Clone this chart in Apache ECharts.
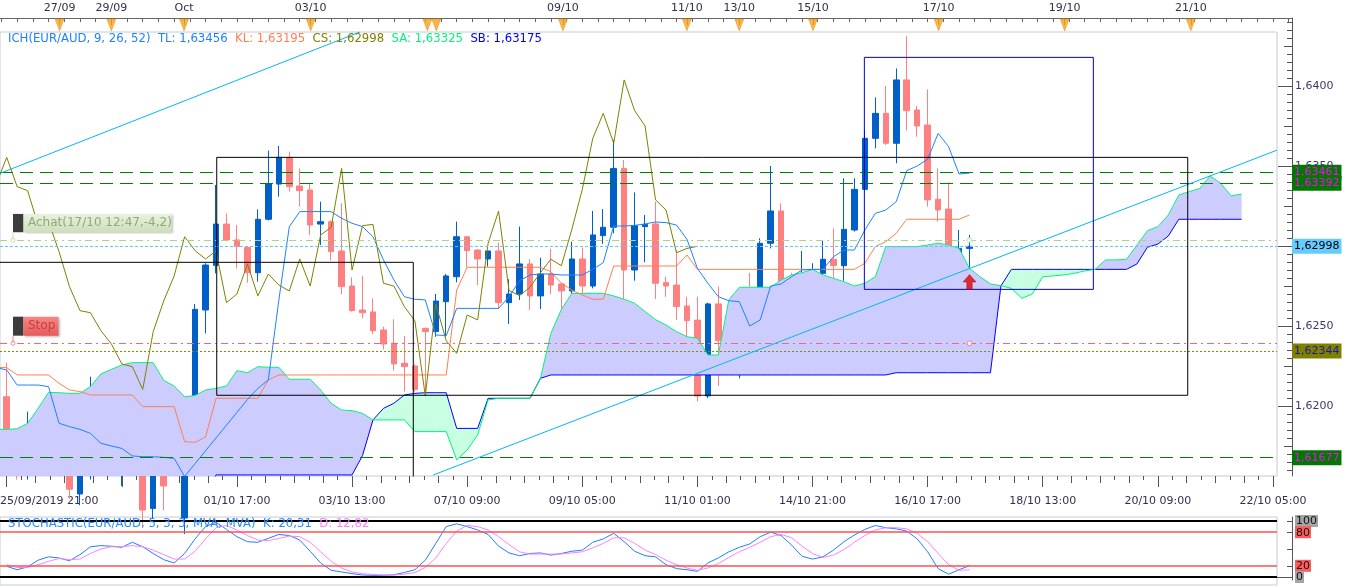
<!DOCTYPE html>
<html><head><meta charset="utf-8">
<script src="https://cdn.jsdelivr.net/npm/echarts@6.0.0/dist/echarts.min.js"></script>
<style>html,body{margin:0;padding:0;background:#fff;}#c{width:1349px;height:588px;}</style>
</head><body><div id="c"></div>
<script>
// ---------- data (bar index 0 = first candle) ----------
const openP = [1.62058,1.61829,1.61590,1.61850,1.61787,1.61650,1.61600,1.61450,1.61767,1.61881,
1.61796,1.61800,1.61846,1.61917,1.61360,1.61580,1.61480,1.61300,1.61763,1.62600,
1.62879,1.63137,1.63038,1.62992,1.62833,1.63167,1.63387,1.63554,1.63375,1.63350,
1.63137,1.63152,1.62969,1.62750,1.62600,1.62588,1.62475,1.62392,1.62267,1.62250,
1.62485,1.62465,1.62652,1.62808,1.63058,1.62975,1.62919,1.62969,1.62646,1.62700,
1.62888,1.62688,1.62825,1.62763,1.62719,1.62919,1.62750,1.63065,1.63117,1.63485,
1.62850,1.63121,1.63138,1.62771,1.62756,1.62625,1.62537,1.62063,1.62638,1.62413,
1.62423,1.62569,1.62538,1.63017,1.63219,1.62725,1.62690,1.62742,1.62829,1.62917,
1.62877,1.63100,1.63354,1.63673,1.63829,1.63642,1.64038,1.63850,1.63756,1.63292,
1.63231,1.62958,1.62985];
const closeP = [1.61829,1.61590,1.61850,1.61783,1.61646,1.61594,1.61480,1.61767,1.61881,1.61642,
1.61808,1.61850,1.61917,1.61350,1.61570,1.61500,1.61300,1.61763,1.62604,1.62881,
1.63137,1.63038,1.62996,1.62833,1.63167,1.63387,1.63554,1.63371,1.63346,1.63131,
1.63152,1.62965,1.62746,1.62596,1.62583,1.62471,1.62388,1.62263,1.62246,1.62104,
1.62465,1.62656,1.62813,1.63058,1.62971,1.62919,1.62969,1.62646,1.62700,1.62888,
1.62688,1.62825,1.62756,1.62719,1.62919,1.62750,1.63069,1.63117,1.63485,1.62850,
1.63127,1.63135,1.62767,1.62750,1.62621,1.62533,1.62062,1.62638,1.62408,1.62329,
1.62569,1.62538,1.63017,1.63219,1.62721,1.62690,1.62742,1.62833,1.62917,1.62877,
1.63104,1.63354,1.63673,1.63829,1.63642,1.64038,1.63846,1.63750,1.63288,1.63225,
1.62958,1.62985,1.62998];
const lowP = [1.61788,1.61540,1.61540,1.61579,1.61610,1.61560,1.61420,1.61380,1.61540,1.61630,
1.61694,1.61500,1.61808,1.61250,1.61300,1.61350,1.61160,1.61200,1.61760,1.62454,
1.62829,1.63030,1.62860,1.62771,1.62777,1.63160,1.63308,1.63340,1.63246,1.63069,
1.63006,1.62908,1.62700,1.62590,1.62548,1.62450,1.62354,1.62221,1.62090,1.62090,
1.62069,1.62433,1.62433,1.62773,1.62867,1.62756,1.62871,1.62604,1.62513,1.62663,
1.62600,1.62606,1.62700,1.62563,1.62606,1.62658,1.62735,1.63013,1.63079,1.62621,
1.62783,1.62898,1.62669,1.62683,1.62538,1.62423,1.62027,1.62050,1.62125,1.62277,
1.62173,1.62413,1.62485,1.62985,1.62720,1.62658,1.62604,1.62450,1.62617,1.62694,
1.62783,1.63090,1.63350,1.63610,1.63631,1.63517,1.63721,1.63683,1.63246,1.63152,
1.62923,1.62590,1.62860];
const highP = [1.62271,1.61840,1.61965,1.61912,1.61892,1.61750,1.61610,1.61944,1.62183,1.61933,
1.61933,1.61860,1.62131,1.61917,1.61710,1.61585,1.61520,1.61775,1.62637,1.62892,
1.63381,1.63204,1.63131,1.63000,1.63229,1.63596,1.63625,1.63590,1.63485,1.63392,
1.63277,1.63160,1.63267,1.62804,1.62813,1.62673,1.62496,1.62542,1.62438,1.62260,
1.62490,1.62700,1.62825,1.63152,1.63060,1.62980,1.62970,1.63021,1.62792,1.63121,
1.62917,1.62927,1.62981,1.62770,1.63027,1.62990,1.63219,1.63231,1.63663,1.63538,
1.63335,1.63194,1.63277,1.62808,1.62975,1.62683,1.62683,1.62646,1.62746,1.62579,
1.62590,1.62833,1.63048,1.63500,1.63267,1.62833,1.62969,1.62892,1.63031,1.63110,
1.63423,1.63423,1.63725,1.63929,1.64000,1.64110,1.64313,1.63875,1.63979,1.63485,
1.63398,1.63100,1.63069];

// Ichimoku lines (first value sits at bar -1)
const LINE_START = -1;
const tenkan = [1.62240,
1.62225,1.62131,1.62131,1.62131,1.62121,1.61892,1.61871,1.61854,1.61829,1.61767,
1.61750,1.61735,1.61688,1.61683,1.61683,1.61679,1.61673,1.61560,1.61640,1.61720,
1.61800,1.61880,1.61960,1.62040,1.62110,1.62163,1.62660,1.63120,1.63215,1.63215,
1.63215,1.63215,1.63173,1.63142,1.63121,1.63058,1.62913,1.62788,1.62683,1.62667,
1.62663,1.62444,1.62440,1.62610,1.62610,1.62610,1.62610,1.62610,1.62683,1.62783,
1.62819,1.62825,1.62825,1.62819,1.62819,1.62819,1.62854,1.62896,1.63125,1.63125,
1.63129,1.63138,1.63150,1.63146,1.63131,1.63042,1.62860,1.62767,1.62683,1.62658,
1.62652,1.62500,1.62538,1.62750,1.62763,1.62808,1.62850,1.62854,1.62854,1.62933,
1.62975,1.62975,1.63100,1.63204,1.63225,1.63277,1.63471,1.63500,1.63542,1.63704,
1.63621,1.63450,1.63456];
const kijun = [1.62240,
1.62240,1.62194,1.62194,1.62194,1.62194,1.62142,1.62100,1.62090,1.62069,1.62069,
1.62069,1.62069,1.62069,1.61996,1.61996,1.61996,1.61996,1.61777,1.61773,1.61806,
1.62048,1.62048,1.62048,1.62048,1.62048,1.62163,1.62194,1.62194,1.62194,1.62194,
1.62194,1.62194,1.62194,1.62194,1.62194,1.62194,1.62194,1.62194,1.62194,1.62194,
1.62194,1.62194,1.62194,1.62725,1.62867,1.62867,1.62867,1.62867,1.62867,1.62867,
1.62867,1.62867,1.62840,1.62767,1.62725,1.62694,1.62667,1.62667,1.62875,1.62875,
1.62875,1.62875,1.62875,1.62875,1.62875,1.62944,1.62854,1.62854,1.62854,1.62854,
1.62854,1.62854,1.62854,1.62854,1.62854,1.62854,1.62854,1.62854,1.62854,1.62854,
1.62854,1.62854,1.62892,1.62996,1.63027,1.63079,1.63167,1.63167,1.63167,1.63167,
1.63167,1.63167,1.63194];
const chikou = [1.63387,
1.63554,1.63371,1.63346,1.63131,1.63152,1.62965,1.62746,1.62596,1.62583,1.62471,
1.62388,1.62263,1.62246,1.62104,1.62465,1.62656,1.62813,1.63058,1.62971,1.62919,
1.62969,1.62646,1.62700,1.62888,1.62688,1.62825,1.62756,1.62719,1.62919,1.62750,
1.63069,1.63117,1.63485,1.62850,1.63127,1.63135,1.62767,1.62750,1.62621,1.62533,
1.62062,1.62638,1.62408,1.62329,1.62569,1.62538,1.63017,1.63219,1.62721,1.62690,
1.62742,1.62833,1.62917,1.62877,1.63104,1.63354,1.63673,1.63829,1.63642,1.64038,
1.63846,1.63750,1.63288,1.63225,1.62958,1.62985,1.62998];
const spanA = [1.61854,
1.61854,1.61858,1.61892,1.61985,1.62085,1.62083,1.62079,1.62079,1.62121,1.62200,
1.62229,1.62256,1.62271,1.62271,1.62271,1.62160,1.62125,1.62058,1.62065,1.62100,
1.62110,1.62125,1.62221,1.62208,1.62246,1.62242,1.62242,1.62167,1.62167,1.62167,
1.62100,1.62017,1.61975,1.61971,1.61954,1.61913,1.61913,1.61913,1.61913,1.61840,
1.61840,1.61840,1.61840,1.61663,1.61725,1.61819,1.62038,1.62048,1.62048,1.62048,
1.62048,1.62173,1.62454,1.62604,1.62704,1.62704,1.62704,1.62704,1.62688,1.62667,
1.62642,1.62590,1.62540,1.62506,1.62465,1.62433,1.62423,1.62319,1.62319,1.62663,
1.62742,1.62742,1.62742,1.62742,1.62788,1.62819,1.62833,1.62854,1.62819,1.62798,
1.62777,1.62750,1.62767,1.62808,1.62996,1.62996,1.62996,1.62996,1.63006,1.63017,
1.63006,1.62985,1.62860,1.62808,1.62763,1.62752,1.62735,1.62673,1.62700,1.62808,
1.62813,1.62819,1.62829,1.62844,1.62854,1.62913,1.62913,1.62917,1.63006,1.63096,
1.63121,1.63194,1.63319,1.63340,1.63360,1.63438,1.63392,1.63313,1.63325];
const spanB = [1.61450,
1.61450,1.61450,1.61450,1.61450,1.61450,1.61450,1.61450,1.61450,1.61450,1.61450,
1.61450,1.61450,1.61450,1.61450,1.61450,1.61450,1.61450,1.61450,1.61450,1.61450,
1.61569,1.61569,1.61569,1.61569,1.61569,1.61569,1.61569,1.61569,1.61569,1.61569,
1.61569,1.61569,1.61569,1.61569,1.61690,1.61913,1.61985,1.62017,1.62069,1.62079,
1.62083,1.62083,1.62083,1.61860,1.61860,1.61860,1.62048,1.62048,1.62048,1.62048,
1.62048,1.62173,1.62194,1.62194,1.62194,1.62194,1.62194,1.62194,1.62194,1.62194,
1.62194,1.62194,1.62194,1.62194,1.62194,1.62194,1.62194,1.62194,1.62194,1.62194,
1.62194,1.62194,1.62194,1.62194,1.62194,1.62194,1.62194,1.62194,1.62194,1.62194,
1.62194,1.62194,1.62194,1.62194,1.62194,1.62208,1.62208,1.62208,1.62208,1.62208,
1.62208,1.62208,1.62208,1.62208,1.62208,1.62750,1.62854,1.62854,1.62854,1.62854,
1.62854,1.62854,1.62854,1.62854,1.62854,1.62854,1.62854,1.62854,1.62888,1.62992,
1.63012,1.63063,1.63167,1.63167,1.63167,1.63167,1.63167,1.63167,1.63167];

// Stochastic (bar 0..92)
const stochK = [19,13,18,30,36,34,29,40,54,56,55,53,62,54,42,31,25,42,68,90,
98,85,72,63,62,69,76,74,66,46,25,12,9,6,3.5,3,3,4,8,13,
30,60,90,95,90,84,76,55,43,38,42,43,39,42,46,48,62,68,78,63,
46,38,36,22,15,13,10,25,34,45,53,59,72,80,74,57,37,32,36,48,
63,75,85,92,88,86,82,68,45,15,5,13,20.31];
const stochD = [22,17,17,22,28,33,31,32,42,50,54,54,56,54,48,40,32,32,46,68,
88,92,84,74,66,65,69,73,72,62,45,28,16,9,6,4.5,3.5,3.5,5,8,
17,34,60,82,92,90,84,72,58,45,41,41,41,41,43,45,52,60,70,70,
60,48,40,30,22,16,12,16,24,35,45,53,62,72,76,70,55,42,35,39,
49,62,74,84,88,88,86,78,63,42,22,12,12.82];

// axis labels
const bottomLabels = ['25/09/2019 21:00','01/10 17:00','03/10 13:00','07/10 09:00','09/10 05:00','11/10 01:00','14/10 21:00','16/10 17:00','18/10 13:00','20/10 09:00','22/10 05:00'];
const bottomLabelBars = [-0.64,22,33,44,55,66,77,88,99,110,121];
const topLabels = ['27/09','29/09','Oct','03/10','09/10','11/10','13/10','15/10','17/10','19/10','21/10'];
const topLabelBars = [5.05,10,16.95,29.05,53.15,65,70,77.05,89.05,101.1,113.15];
const topExtraMarkerBars = [40.2,41.05];
const priceLabels = [1.6200,1.6250,1.6300,1.6350,1.6400];
const stochLabelsA = [100,20];
const stochLabelsB = [80,0];

// drawings (bar index / price)
const levelValues = [1.63461,1.63392,1.61677,1.62998,1.62344];
const achatLevel = 1.63036;
const stopLevel = 1.62392;
const trend1 = [[-0.64,1.63454],[33.76,1.64338]];
const trend2 = [[40.76,1.615688],[121.38,1.63599]];
const rect1 = [[-2,1.6130],[38.85,1.62898]];
const rect2 = [[20.07,1.62067],[112.85,1.63554]];
const rect3 = [[81.95,1.62729],[103.83,1.64179]];
const entryBar = 92;
const arrowPrice = 1.62775;

// ---------- chart ----------
const FONT = 'DejaVu Sans';
const XMIN = -0.64, XMAX_MAIN = 121.38, XMAX_OUT = 122.82;
const YMIN = 1.615625, YMAX_MAIN = 1.643375, YMAX_OUT = 1.64425;
const SMIN = -14.29, SMAX = 107.14;

function fmt(v, d) { return v.toFixed(d).replace('.', ','); }
function range(a, b, s) { const r = []; for (let v = a; v <= b + 1e-9; v += s) r.push(+v.toFixed(6)); return r; }
function rows(arr, start) { return arr.map((v, k) => [start + k, v]); }
function rectPath(r) { const [[x0,y0],[x1,y1]] = r; return [[x0,y0],[x1,y0],[x1,y1],[x0,y1],[x0,y0]]; }
function labelFor(bars, labels) { return v => { for (let k = 0; k < bars.length; k++) if (Math.abs(bars[k] - v) < 1e-6) return labels[k]; return ''; }; }

const chart = echarts.init(document.getElementById('c'));
const candleRows = openP.map((o, i) => [i, o, closeP[i], lowP[i], highP[i]]);

const lineBase = (name, data, color, z) => ({
  name, type: 'line', xAxisIndex: 0, yAxisIndex: 0, data, showSymbol: false, symbol: 'none',
  lineStyle: { color, width: 1 }, z, silent: true, clip: true, animation: false
});

const CLOUD_BULL = '#ccccff', CLOUD_BEAR = '#c8ffe2';
const NOZERO = { onZero: false };

const labelBox = (bg, fg) => ({ show: true, position: 'end', distance: 15, color: fg, backgroundColor: bg,
  padding: [2, 2, 1, 2], fontSize: 11, fontFamily: FONT, lineHeight: 12 });
const levelStyles = [
  { lineStyle: { color: '#007f00', width: 1, type: [13, 7] }, label: labelBox('#007800', '#ff00ff') },
  { lineStyle: { color: '#007f00', width: 1, type: [13, 7] }, label: labelBox('#007800', '#ff00ff') },
  { lineStyle: { color: '#007f00', width: 1, type: [13, 7] }, label: labelBox('#007800', '#ff00ff') },
  { lineStyle: { color: '#66c6f6', width: 1, type: [3, 2] }, label: labelBox('#66ccff', '#000000') },
  { lineStyle: { color: '#8a8a00', width: 1, type: [2, 2] }, label: labelBox('#808000', '#1a1aa0') }
];
const levelData = levelValues.map((v, k) => Object.assign({ yAxis: v }, levelStyles[k], {
  label: Object.assign({}, levelStyles[k].label, { formatter: fmt(v, 5) }) }));
levelData.push({ yAxis: achatLevel, lineStyle: { color: '#a8d48c', width: 1, type: [7, 4, 2, 4] }, label: { show: false } });
levelData.push({ yAxis: stopLevel, lineStyle: { color: '#f06a6a', width: 1, type: [7, 4, 2, 4] }, label: { show: false } });

const stochRich = {
  g: { backgroundColor: '#a4a4a4', color: '#111', padding: [1, 1, 0, 1], fontSize: 11, lineHeight: 11, fontFamily: FONT },
  r: { backgroundColor: '#ff5a5a', color: '#111', padding: [1, 1, 0, 1], fontSize: 11, lineHeight: 11, fontFamily: FONT }
};
const stochFmt = v => (v === 80 || v === 20) ? '{r|' + v + '}' : '{g|' + v + '}';

const LF = 11.7;
const option = {
  animation: false,
  textStyle: { fontFamily: FONT },
  title: [
    { left: 8, top: 33, padding: 0,
      text: '{a|ICH(EUR/AUD, 9, 26, 52)  TL: 1,63456}  {b|KL: 1,63195}  {c|CS: 1,62998}  {d|SA: 1,63325}  {e|SB: 1,63175}',
      textStyle: { fontSize: LF, fontFamily: FONT, fontWeight: 'normal', color: '#1e82ff',
        rich: { a: { color: '#1e82ff', fontSize: LF, fontFamily: FONT }, b: { color: '#ff7f50', fontSize: LF, fontFamily: FONT },
          c: { color: '#808000', fontSize: LF, fontFamily: FONT }, d: { color: '#00f47a', fontSize: LF, fontFamily: FONT },
          e: { color: '#0000ff', fontSize: LF, fontFamily: FONT } } } },
    { left: 8, top: 518, padding: 0,
      text: '{a|STOCHASTIC(EUR/AUD, 5, 3, 3, MVA, MVA)  K: 20,31}  {b|D: 12,82}',
      textStyle: { fontSize: LF, fontFamily: FONT, fontWeight: 'normal', color: '#2a8cff',
        rich: { a: { color: '#2a8cff', fontSize: LF, fontFamily: FONT }, b: { color: '#ff80ff', fontSize: LF, fontFamily: FONT } } } }
  ],
  grid: [
    { left: 0, top: 32, width: 1277, height: 444, show: true, borderColor: '#c4ccd6', borderWidth: 1, backgroundColor: 'transparent', outerBoundsMode: 'none' },
    { left: 0, top: 18, width: 1292, height: 458, show: false, outerBoundsMode: 'none' },
    { left: 0, top: 517, width: 1277, height: 68, show: true, borderColor: '#c4ccd6', borderWidth: 1, backgroundColor: 'transparent', outerBoundsMode: 'none' },
    { left: 0, top: 517, width: 1292, height: 63, show: false, outerBoundsMode: 'none' },
    { left: 0, top: 18, width: 1292, height: 14, show: false, outerBoundsMode: 'none' }
  ],
  xAxis: [
    { type: 'value', gridIndex: 0, min: XMIN, max: XMAX_MAIN, show: false, axisLine: NOZERO },
    { type: 'value', gridIndex: 1, position: 'bottom', min: XMIN, max: XMAX_OUT, axisLine: { show: false, onZero: false },
      axisTick: { show: true, length: 4, customValues: range(0, 122, 1.375), lineStyle: { color: '#555' } }, axisLabel: { show: false }, splitLine: { show: false } },
    { type: 'value', gridIndex: 1, position: 'bottom', min: XMIN, max: XMAX_OUT, axisLine: { show: false, onZero: false },
      axisTick: { show: true, length: 7, customValues: range(0, 122, 2.75), lineStyle: { color: '#555' } }, axisLabel: { show: false }, splitLine: { show: false } },
    { type: 'value', gridIndex: 1, position: 'bottom', min: XMIN, max: XMAX_OUT, axisLine: { show: false, onZero: false },
      axisTick: { show: true, length: 11, customValues: range(0, 122, 11), lineStyle: { color: '#555' } },
      axisLabel: { show: true, customValues: bottomLabelBars, formatter: labelFor(bottomLabelBars, bottomLabels), margin: 20,
        fontSize: 11, fontFamily: FONT, color: '#303050', alignMinLabel: 'left', hideOverlap: false }, splitLine: { show: false } },
    { type: 'value', gridIndex: 1, position: 'top', min: XMIN, max: XMAX_OUT, axisLine: { show: true, onZero: false, lineStyle: { color: '#666', width: 1 } },
      axisTick: { show: true, inside: true, length: 4, customValues: range(-0.5, 122.5, 1.5), lineStyle: { color: '#666' } }, axisLabel: { show: false }, splitLine: { show: false } },
    { type: 'value', gridIndex: 1, position: 'top', min: XMIN, max: XMAX_OUT, axisLine: { show: false, onZero: false },
      axisTick: { show: true, inside: true, length: 7, customValues: topLabelBars, lineStyle: { color: '#666' } },
      axisLabel: { show: true, customValues: topLabelBars, formatter: labelFor(topLabelBars, topLabels), margin: 4,
        fontSize: 11, fontFamily: FONT, color: '#303048', hideOverlap: false }, splitLine: { show: false } },
    { type: 'value', gridIndex: 2, min: XMIN, max: XMAX_MAIN, show: false, axisLine: NOZERO },
    { type: 'value', gridIndex: 3, min: XMIN, max: XMAX_OUT, show: false, axisLine: NOZERO },
    { type: 'value', gridIndex: 4, min: XMIN, max: XMAX_OUT, show: false, axisLine: NOZERO }
  ],
  yAxis: [
    { type: 'value', gridIndex: 0, min: YMIN, max: YMAX_MAIN, show: false, axisLine: NOZERO },
    { type: 'value', gridIndex: 1, position: 'right', min: YMIN, max: YMAX_OUT, axisLine: { show: true, onZero: false, lineStyle: { color: '#555' } },
      axisTick: { show: true, inside: true, length: 5, customValues: range(1.616, 1.644, 0.0005), lineStyle: { color: '#555' } },
      axisLabel: { show: false }, splitLine: { show: false } },
    { type: 'value', gridIndex: 1, position: 'right', min: YMIN, max: YMAX_OUT, axisLine: { show: false, onZero: false },
      axisTick: { show: true, inside: true, length: 8, customValues: range(1.6175, 1.6425, 0.005), lineStyle: { color: '#555' } },
      axisLabel: { show: false }, splitLine: { show: false } },
    { type: 'value', gridIndex: 1, position: 'right', min: YMIN, max: YMAX_OUT, axisLine: { show: false, onZero: false },
      axisTick: { show: true, inside: true, length: 14, customValues: priceLabels, lineStyle: { color: '#555' } },
      axisLabel: { show: true, customValues: priceLabels, formatter: v => fmt(v, 4), margin: 3, fontSize: 11, fontFamily: FONT, color: '#3a3a68', hideOverlap: false },
      splitLine: { show: false } },
    { type: 'value', gridIndex: 2, min: SMIN, max: SMAX, show: false, axisLine: NOZERO },
    // stochastic scale: grid 3 spans y 517..580 so the axis line stops near the 0 level
    { type: 'value', gridIndex: 3, position: 'right', min: -5.36, max: 107.14, axisLine: { show: true, onZero: false, lineStyle: { color: '#555' } },
      axisTick: { show: true, inside: true, length: 5, customValues: [20, 50, 80, 100], lineStyle: { color: '#555' } },
      axisLabel: { show: true, customValues: stochLabelsA, margin: 3, hideOverlap: false, formatter: stochFmt, rich: stochRich },
      splitLine: { show: false } },
    { type: 'value', gridIndex: 4, min: 0, max: 1, show: false, axisLine: NOZERO },
    { type: 'value', gridIndex: 3, position: 'right', min: -5.36, max: 107.14, axisLine: { show: false, onZero: false },
      axisTick: { show: true, inside: true, length: 15, customValues: [0], lineStyle: { color: '#555' } },
      axisLabel: { show: true, customValues: stochLabelsB, margin: 3, hideOverlap: false, formatter: stochFmt, rich: stochRich },
      splitLine: { show: false } }
  ],
  series: [
    { name: 'EUR/AUD', type: 'candlestick', xAxisIndex: 0, yAxisIndex: 0, data: candleRows, barWidth: 6, z: 2, silent: true,
      itemStyle: { color: '#0060c8', color0: '#ff8080', borderColor: '#0060c8', borderColor0: '#ff8080', borderWidth: 1 } },
    { name: 'cloud', type: 'custom', xAxisIndex: 0, yAxisIndex: 0, clip: true, z: 3, silent: true,
      data: [[LINE_START, spanA[0]]], encode: { x: 0, y: 1 },
      renderItem: function (params, api) {
        const polys = [];
        let up = [], dn = [], sign = null;
        const close = () => { if (up.length > 1) polys.push({ pts: up.concat(dn.slice().reverse()), pos: sign }); };
        for (let k = 0; k < spanA.length; k++) {
          const x = LINE_START + k, a = spanA[k], b = spanB[k], s = a >= b;
          if (sign === null) { sign = s; up = [[x, a]]; dn = [[x, b]]; continue; }
          if (s !== sign) {
            const ap = spanA[k - 1], bp = spanB[k - 1];
            const d0 = ap - bp, d1 = a - b, t = d0 / (d0 - d1);
            const xc = x - 1 + t, yc = ap + t * (a - ap);
            up.push([xc, yc]); dn.push([xc, yc]); close();
            sign = s; up = [[xc, yc]]; dn = [[xc, yc]];
          }
          up.push([x, a]); dn.push([x, b]);
        }
        close();
        return { type: 'group', children: polys.map(p => ({ type: 'polygon',
          shape: { points: p.pts.map(q => api.coord(q)) },
          style: { fill: p.pos ? CLOUD_BULL : CLOUD_BEAR, blend: 'multiply' } })) };
      } },
    lineBase('SB', rows(spanB, LINE_START), '#0000ff', 4),
    lineBase('SA', rows(spanA, LINE_START), '#00f47a', 4),
    lineBase('KL', rows(kijun, LINE_START), '#ff7f50', 4),
    lineBase('TL', rows(tenkan, LINE_START), '#1e82ff', 4),
    lineBase('CS', rows(chikou, LINE_START), '#808000', 4),
    lineBase('trend1', trend1, '#00b8f0', 5),
    lineBase('trend2', trend2, '#00b8f0', 5),
    lineBase('rect1', rectPath(rect1), '#000000', 5),
    lineBase('rect2', rectPath(rect2), '#000000', 5),
    lineBase('rect3', rectPath(rect3), '#0000cc', 5),
    { name: 'levels', type: 'line', xAxisIndex: 0, yAxisIndex: 0, data: [], clip: false, z: 5, silent: true,
      markLine: { symbol: ['none', 'none'], silent: true, animation: false, precision: 6, data: levelData } },
    { name: 'stopMark', type: 'scatter', xAxisIndex: 0, yAxisIndex: 0, data: [[entryBar, stopLevel]], symbol: 'circle', symbolSize: 5, z: 6, silent: true,
      itemStyle: { color: '#ffffff', borderColor: '#f06a6a', borderWidth: 1 } },
    { name: 'achatMark', type: 'scatter', xAxisIndex: 0, yAxisIndex: 0, data: [[entryBar, achatLevel]], symbol: 'circle', symbolSize: 5, z: 6, silent: true,
      itemStyle: { color: '#ffffff', borderColor: '#b8dca0', borderWidth: 1 } },
    { name: 'arrow', type: 'scatter', xAxisIndex: 0, yAxisIndex: 0, data: [[entryBar, arrowPrice]], z: 6, silent: true,
      symbol: 'path://M6,0 L12,7 L8.5,7 L8.5,14 L3.5,14 L3.5,7 L0,7 Z', symbolSize: [13, 15],
      itemStyle: { color: '#e00000', borderColor: '#900000', borderWidth: 0.5 } },
    { name: 'events', type: 'scatter', xAxisIndex: 8, yAxisIndex: 6, data: topLabelBars.concat(topExtraMarkerBars).map(b => [b, 0.5]),
      symbol: 'triangle', symbolRotate: 180, symbolSize: [9, 12], z: 6, silent: true,
      itemStyle: { color: '#f7a21b', borderColor: '#d98a00', borderWidth: 0.5 } },
    { name: 'K', type: 'line', xAxisIndex: 6, yAxisIndex: 4, data: rows(stochK, 0), showSymbol: false, symbol: 'none', z: 4, silent: true,
      lineStyle: { color: '#1e7fff', width: 1 },
      markLine: { symbol: ['none', 'none'], silent: true, animation: false, precision: 6, label: { show: false },
        data: [ { yAxis: 100, lineStyle: { color: '#000', width: 2, type: 'solid' } }, { yAxis: 0, lineStyle: { color: '#000', width: 2, type: 'solid' } },
          { yAxis: 80, lineStyle: { color: '#ff5050', width: 1.5, type: 'solid' } }, { yAxis: 20, lineStyle: { color: '#ff5050', width: 1.5, type: 'solid' } } ] } },
    { name: 'D', type: 'line', xAxisIndex: 6, yAxisIndex: 4, data: rows(stochD, 0), showSymbol: false, symbol: 'none', z: 4, silent: true,
      lineStyle: { color: '#ff80ff', width: 1 } }
  ]
};
chart.setOption(option);

// order-label tags anchored on their price lines
const ya = chart.convertToPixel({ gridIndex: 0 }, [0, achatLevel])[1];
const ys = chart.convertToPixel({ gridIndex: 0 }, [0, stopLevel])[1];
const grad = (c0, c1) => new echarts.graphic.LinearGradient(0, 0, 0, 1, [{ offset: 0, color: c0 }, { offset: 1, color: c1 }]);
chart.setOption({ graphic: [
  { type: 'rect', z: 100, shape: { x: 13, y: ya - 26.3, width: 10.5, height: 18.3 }, style: { fill: '#3c3c3c' } },
  { type: 'rect', z: 100, shape: { x: 23.5, y: ya - 26.3, width: 148, height: 18.3 },
    style: { fill: grad('#e8f1de', '#cddfba'), shadowBlur: 2, shadowOffsetX: 1, shadowOffsetY: 1, shadowColor: 'rgba(0,0,0,0.25)' } },
  { type: 'text', z: 101, x: 28, y: ya - 17.1, style: { text: 'Achat(17/10 12:47,-4,2)', fill: '#93a87a', fontSize: 12, fontFamily: FONT, verticalAlign: 'middle', align: 'left' } },
  { type: 'line', z: 100, shape: { x1: 13, y1: ya - 8, x2: 13, y2: ya - 2 }, style: { stroke: '#c8ddb0', lineWidth: 1 } },
  { type: 'circle', z: 100, shape: { cx: 13, cy: ya, r: 2 }, style: { fill: '#fff', stroke: '#c8ddb0', lineWidth: 1 } },
  { type: 'rect', z: 100, shape: { x: 13, y: ys - 26.6, width: 10.5, height: 19 }, style: { fill: '#3c3c3c' } },
  { type: 'rect', z: 100, shape: { x: 23.5, y: ys - 26.6, width: 35, height: 19 },
    style: { fill: grad('#f88686', '#e85a5a'), shadowBlur: 2, shadowOffsetX: 1, shadowOffsetY: 1, shadowColor: 'rgba(0,0,0,0.25)' } },
  { type: 'text', z: 101, x: 28, y: ys - 17.1, style: { text: 'Stop', fill: '#c04444', fontSize: 12, fontFamily: FONT, verticalAlign: 'middle', align: 'left' } },
  { type: 'line', z: 100, shape: { x1: 13, y1: ys - 7.6, x2: 13, y2: ys - 2 }, style: { stroke: '#f08a8a', lineWidth: 1 } },
  { type: 'circle', z: 100, shape: { cx: 13, cy: ys, r: 2 }, style: { fill: '#fff', stroke: '#f08a8a', lineWidth: 1 } }
] });
</script>
</body></html>
